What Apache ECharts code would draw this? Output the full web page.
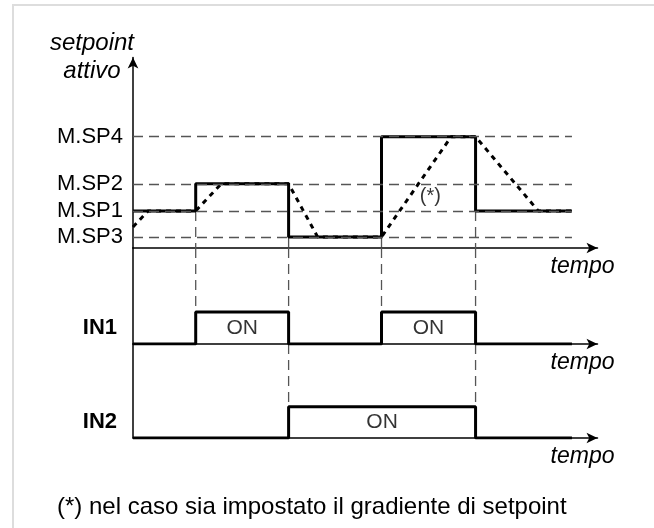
<!DOCTYPE html>
<html>
<head>
<meta charset="utf-8">
<script src="https://cdn.jsdelivr.net/npm/echarts@6/dist/echarts.min.js"></script>
<style>
html,body{margin:0;padding:0;background:#fff}
#main{width:654px;height:528px}
</style>
</head>
<body>
<div id="main"></div>
<script>
var FONT = 'Liberation Sans'

// instants where the inputs switch, last one is the end of the trace
var stepTimes = [0, 2.7, 6.7, 10.7, 14.75, 18.9]
// active setpoint after each instant
var activeSp = ['M.SP1', 'M.SP2', 'M.SP3', 'M.SP4', 'M.SP1', 'M.SP1']
var in1States = [0, 1, 0, 1, 0, 0]
var in2States = [0, 0, 1, 1, 0, 0]

// setpoint levels
var spNames = ['M.SP3', 'M.SP1', 'M.SP2', 'M.SP4']
var spValues = [1.1, 3.7, 6.4, 11.1]

// setpoint with gradient (dotted)
var rampTimes = [0, 0.65, 2.7, 3.8, 6.7, 7.95, 10.7, 13.7, 14.75, 17.45, 18.9]
var rampValues = [2.1, 3.7, 3.7, 6.4, 6.4, 1.1, 1.1, 11.1, 11.1, 3.7, 3.7]

var noteAt = [12.8, 5.1]
var X_MAX = 20, SP_MAX = 19, IN_MAX = 3

function spVal(name) { return spValues[spNames.indexOf(name)] }

var spData = stepTimes.map(function (t, i) { return [t, spVal(activeSp[i])] })
var rampData = rampTimes.map(function (t, i) { return [t, rampValues[i]] })
var in1Data = stepTimes.map(function (t, i) { return [t, in1States[i]] })
var in2Data = stepTimes.map(function (t, i) { return [t, in2States[i]] })

// centre of every ON stretch
function onLabels(states) {
    var out = [], start = null
    for (var i = 0; i < states.length; i++) {
        if (states[i] === 1 && start === null) start = stepTimes[i]
        if (states[i] !== 1 && start !== null) {
            out.push([(start + stepTimes[i]) / 2, 0.5])
            start = null
        }
    }
    return out
}

var guideStyle = { color: '#555', width: 1.3, type: [10, 6] }
var series = []

function guide(grid, pts) {
    series.push({
        type: 'line', xAxisIndex: grid, yAxisIndex: grid, data: pts,
        symbol: 'none', silent: true, z: 1,
        lineStyle: guideStyle
    })
}

// horizontal setpoint guides with their labels
series.push({
    type: 'line', xAxisIndex: 0, yAxisIndex: 0, data: [], z: 1,
    markLine: {
        silent: true, symbol: 'none', animation: false,
        lineStyle: guideStyle,
        label: {
            position: 'start', distance: 10, formatter: '{b}',
            color: '#000', fontFamily: FONT, fontSize: 22
        },
        data: spNames.map(function (n, i) {
            return [{ name: n, coord: [0, spValues[i]] },
                    { coord: [stepTimes[stepTimes.length - 1], spValues[i]] }]
        })
    }
})

// vertical guides at every switching instant
for (var i = 1; i < stepTimes.length - 1; i++) {
    var t = stepTimes[i]
    var low = Math.min(spVal(activeSp[i - 1]), spVal(activeSp[i]))
    guide(0, [[t, low], [t, 0]])
    if (in1States[i] !== in1States[i - 1]) guide(1, [[t, IN_MAX], [t, 0]])
    if (in2States[i] !== in2States[i - 1]) guide(2, [[t, IN_MAX], [t, 0]])
}

series.push({
    type: 'line', xAxisIndex: 0, yAxisIndex: 0, data: rampData,
    symbol: 'none', z: 2,
    lineStyle: { color: '#000', width: 3, type: [5, 5], cap: 'butt' }
})
series.push({
    type: 'line', xAxisIndex: 0, yAxisIndex: 0, data: spData, step: 'end',
    symbol: 'none', z: 3,
    lineStyle: { color: '#000', width: 3 }
})
series.push({
    type: 'line', xAxisIndex: 1, yAxisIndex: 1, data: in1Data, step: 'end',
    symbol: 'none', z: 3,
    lineStyle: { color: '#000', width: 3 }
})
series.push({
    type: 'line', xAxisIndex: 2, yAxisIndex: 2, data: in2Data, step: 'end',
    symbol: 'none', z: 3,
    lineStyle: { color: '#000', width: 3 }
})

function textPoints(grid, pts, txt, size) {
    series.push({
        type: 'scatter', xAxisIndex: grid, yAxisIndex: grid, data: pts,
        symbolSize: 0, silent: true, z: 4,
        label: {
            show: true, position: 'inside', formatter: txt,
            color: '#000', fontFamily: FONT, fontSize: size
        }
    })
}
textPoints(1, onLabels(in1States), 'ON', 21)
textPoints(2, onLabels(in2States), 'ON', 21)
textPoints(0, [noteAt], '(*)', 20)

var axisLine = { color: '#000', width: 1.5 }

function xAx(grid) {
    return {
        type: 'value', gridIndex: grid, min: 0, max: X_MAX,
        axisLine: { show: true, onZero: false, symbol: ['none', 'arrow'], symbolSize: [8, 11], lineStyle: axisLine },
        axisTick: { show: false }, axisLabel: { show: false }, splitLine: { show: false },
        name: 'tempo', nameLocation: 'end', nameGap: 17,
        nameTextStyle: {
            color: '#000', fontFamily: FONT, fontSize: 23, fontStyle: 'italic',
            align: 'right', verticalAlign: 'top', padding: [7, 0, 0, 0]
        }
    }
}
function yAx(grid, max, label, arrow) {
    return {
        type: 'value', gridIndex: grid, min: 0, max: max, interval: 0.5,
        axisLine: { show: true, symbol: arrow ? ['none', 'arrow'] : 'none', symbolSize: [8, 11], lineStyle: axisLine },
        axisTick: { show: false }, splitLine: { show: false },
        axisLabel: {
            show: !!label, margin: 16, color: '#000', fontFamily: FONT, fontSize: 22, fontWeight: 'bold',
            formatter: function (v) { return v === 0.5 ? label : '' }
        }
    }
}

var myChart = echarts.init(document.getElementById('main'))
option = {
    animation: false,
    backgroundColor: '#fff',
    title: [{
        text: 'setpoint\nattivo', left: 87, top: 24, textAlign: 'center',
        textStyle: { color: '#000', fontFamily: FONT, fontSize: 24, fontStyle: 'italic', fontWeight: 'normal', lineHeight: 28 }
    }, {
        text: '(*) nel caso sia impostato il gradiente di setpoint', left: 52, top: 490,
        textStyle: { color: '#000', fontFamily: FONT, fontSize: 24, fontWeight: 'normal', lineHeight: 24 }
    }],
    graphic: [{
        type: 'rect', silent: true, z: -1,
        shape: { x: 13, y: 5, width: 700, height: 600 },
        style: { fill: 'none', stroke: '#ddd', lineWidth: 2 }
    }],
    grid: [
        { left: 133, right: 56.5, top: 57.5, height: 190.5 },
        { left: 133, right: 56.5, top: 248, height: 96 },
        { left: 133, right: 56.5, top: 344, height: 94 }
    ],
    xAxis: [xAx(0), xAx(1), xAx(2)],
    yAxis: [yAx(0, SP_MAX, null, true), yAx(1, IN_MAX, 'IN1'), yAx(2, IN_MAX, 'IN2')],
    series: series
}
myChart.setOption(option)
</script>
</body>
</html>
